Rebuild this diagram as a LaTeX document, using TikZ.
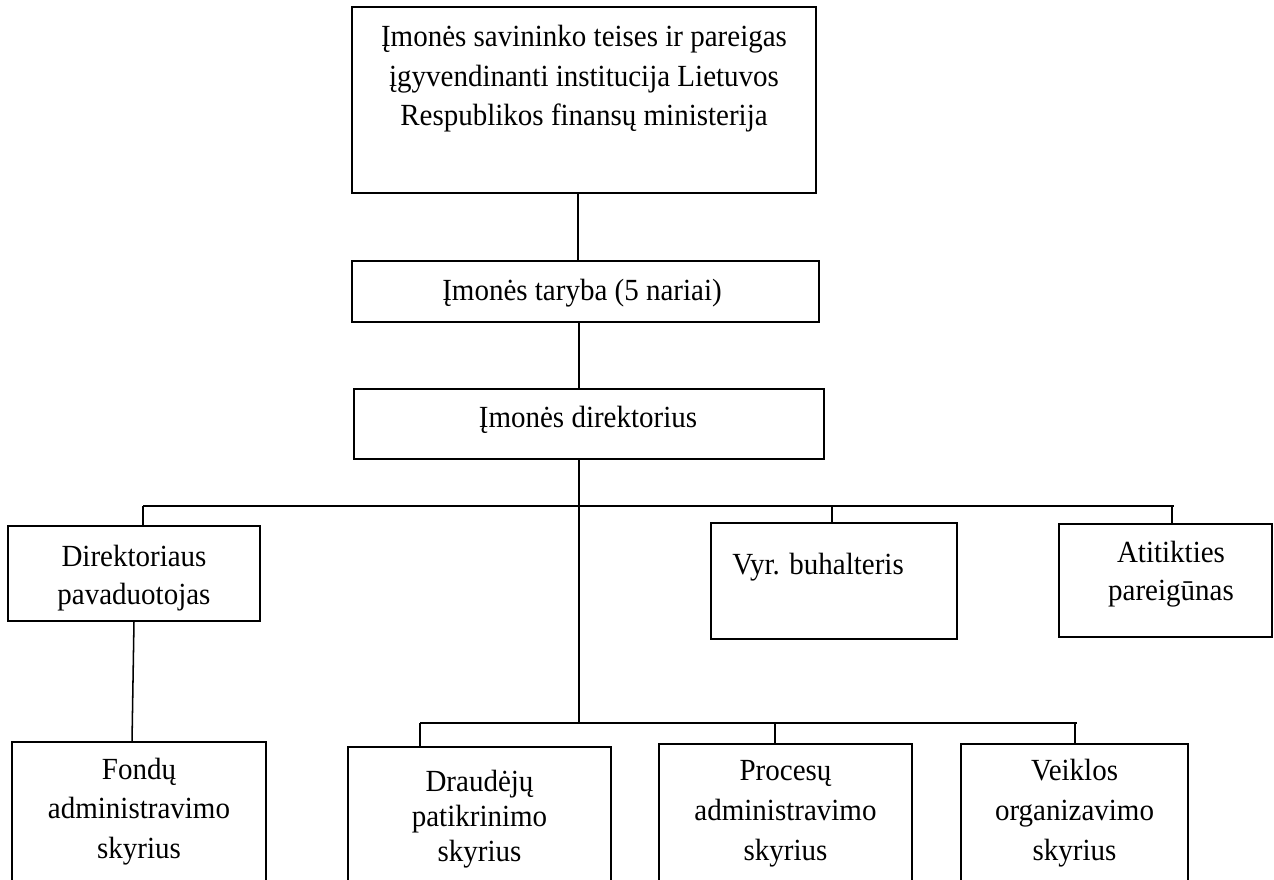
\documentclass[tikz,border=0pt]{standalone}
\usepackage{graphicx}
\usepackage{fontspec}
\setmainfont{Liberation Serif}
\newcommand{\pxu}{0.75pt}
\newcommand{\vtxt}[1]{\scalebox{1}[1.06]{#1}}
\tikzset{
 box/.style={draw=black, line width=1pt, rectangle, inner sep=0pt, outer sep=0pt, anchor=north west},
 conn/.style={draw=black, line width=1.15pt},
 lbl/.style={anchor=base, inner sep=0pt, font=\fontsize{21.75}{29}\selectfont},
 lblw/.style={anchor=base west, inner sep=0pt, font=\fontsize{21.75}{29}\selectfont},
}
\begin{document}
\begin{tikzpicture}[x=0.75pt,y=-0.75pt]
\useasboundingbox (0,0) rectangle (1274,879);
\clip (0,0) rectangle (1274,879);
% boxes
\node[box, minimum width=464*\pxu, minimum height=186*\pxu] (top) at (352,7) {};
\node[box, minimum width=467*\pxu, minimum height=61*\pxu] (tar) at (352,261) {};
\node[box, minimum width=470*\pxu, minimum height=70*\pxu] (dir) at (354,389) {};
\node[box, minimum width=252*\pxu, minimum height=95*\pxu] (dp) at (8,526) {};
\node[box, minimum width=246*\pxu, minimum height=116*\pxu] (vyr) at (711,523) {};
\node[box, minimum width=213*\pxu, minimum height=113*\pxu] (at) at (1059,524) {};
\node[box, minimum width=254*\pxu, minimum height=170*\pxu] (fon) at (12,742) {};
\node[box, minimum width=263*\pxu, minimum height=170*\pxu] (dr) at (348,747) {};
\node[box, minimum width=253*\pxu, minimum height=170*\pxu] (pr) at (659,744) {};
\node[box, minimum width=227*\pxu, minimum height=170*\pxu] (ve) at (961,744) {};
% texts
\node[lbl] (topA) at (584,46.5) {\vtxt{Įmonės savininko teises ir pareigas}};
\node[lbl] (topB) at (584,86) {\vtxt{įgyvendinanti institucija Lietuvos}};
\node[lbl] (topC) at (584,125) {\vtxt{Respublikos finansų ministerija}};
\node[lbl] (tarT) at (582,300) {\vtxt{Įmonės taryba (5 nariai)}};
\node[lbl] (dirT) at (588,427.5) {\vtxt{Įmonės direktorius}};
\node[lbl] (dpA) at (134,566) {\vtxt{Direktoriaus}};
\node[lbl] (dpB) at (134,604) {\vtxt{pavaduotojas}};
\node[lblw] (vyrT) at (732,574) {\vtxt{Vyr. buhalteris}};
\node[lbl] (atA) at (1171,562) {\vtxt{Atitikties}};
\node[lbl] (atB) at (1171,600) {\vtxt{pareigūnas}};
\node[lbl] (fonA) at (139,779) {\vtxt{Fondų}};
\node[lbl] (fonB) at (139,818.5) {\vtxt{administravimo}};
\node[lbl] (fonC) at (139,858) {\vtxt{skyrius}};
\node[lbl] (drA) at (479.5,791) {\vtxt{Draudėjų}};
\node[lbl] (drB) at (479.5,826) {\vtxt{patikrinimo}};
\node[lbl] (drC) at (479.5,861) {\vtxt{skyrius}};
\node[lbl] (prA) at (785.5,780) {\vtxt{Procesų}};
\node[lbl] (prB) at (785.5,820) {\vtxt{administravimo}};
\node[lbl] (prC) at (785.5,860) {\vtxt{skyrius}};
\node[lbl] (veA) at (1074.5,780) {\vtxt{Veiklos}};
\node[lbl] (veB) at (1074.5,820) {\vtxt{organizavimo}};
\node[lbl] (veC) at (1074.5,860) {\vtxt{skyrius}};
% junction coordinates
\coordinate (x578) at (578,0);
\coordinate (uC) at (579,506);
\coordinate (lC) at (579,723);
\coordinate (uL) at (143,506);
\coordinate (uR) at (1174,506);
\coordinate (uV) at (832,506);
\coordinate (uA) at (1172,506);
\coordinate (lL) at (420,723);
\coordinate (lR) at (1077,723);
\coordinate (lP) at (775,723);
\coordinate (lV) at (1075,723);
\coordinate (dpS) at (134,621);
\coordinate (fonN) at (132,742);
% connectors
\draw[conn] (top.south -| x578) -- (tar.north -| x578);
\draw[conn] (tar.south -| uC) -- (dir.north -| uC);
\draw[conn] (dir.south -| uC) -- (lC);
\draw[conn] (uL) -- (uR);
\draw[conn] (uL) -- (dp.north -| uL);
\draw[conn] (uV) -- (vyr.north -| uV);
\draw[conn] (uA) -- (at.north -| uA);
\draw[conn] (dpS) -- (fonN);
\draw[conn] (lL) -- (lR);
\draw[conn] (lL) -- (dr.north -| lL);
\draw[conn] (lP) -- (pr.north -| lP);
\draw[conn] (lV) -- (ve.north -| lV);
\end{tikzpicture}
\end{document}
